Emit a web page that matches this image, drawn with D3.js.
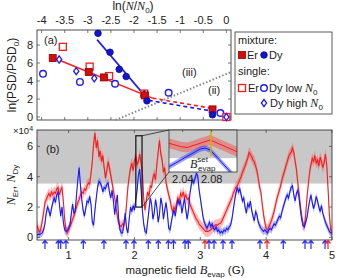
<!DOCTYPE html>
<html>
<head>
<meta charset="utf-8">
<script src="https://cdn.jsdelivr.net/npm/d3@7"></script>
<style>
  html, body { margin: 0; padding: 0; background: #fff; }
  svg { display: block; font-family: "Liberation Sans", Arial, sans-serif; }
  .math { font-family: "Liberation Serif", "DejaVu Serif", serif; font-style: italic; }
</style>
</head>
<body>
<div id="chart"></div>
<script>
// ---- panel (a) data: ln(N/N0) vs ln(PSD/PSD0)
const mixEr = [[-3.76, 6.55], [-2.98, 5.0], [-2.65, 4.4], [-1.76, 2.4], [-0.3, 0.85]];
const mixDy = [[-2.78, 9.3], [-2.52, 7.2], [-2.32, 5.3], [-2.17, 4.5], [-1.72, 1.8], [-0.3, 0.25]];
const singleEr = [[-3.54, 7.8], [-2.96, 5.6], [-2.54, 4.55], [-1.78, 2.6], [0.0, 0.0]];
const singleDyLow = [[-3.97, 4.8], [-3.17, 3.9], [-2.41, 3.7], [-1.25, 2.7], [-0.13, 0.45]];
const singleDyHigh = [[-3.62, 6.4], [-3.25, 5.1], [-2.86, 4.3], [-1.78, 2.5], [-0.3, 0.5], [0.0, 0.0]];
const fitEr = [[-3.8, 6.7], [-1.6, 2.1]];
const fitErExt = [[-1.6, 2.1], [-0.35, 1.0]];
const fitDy = [[-2.8, 8.6], [-1.68, 1.85]];
const fitDyExt = [[-1.68, 1.85], [-0.35, 0.7]];
const lineIII = [[-2.4, -0.33], [0.1, 5.0]];
const xTicksA = [-4, -3.5, -3, -2.5, -2, -1.5, -1, -0.5, 0];
const yTicksA = [0, 2, 4, 6, 8];

// ---- panel (b) data: atom numbers (x 10^4) vs B_evap (G)
const erTrace = [
  [0.52,0.8],[0.54,0.5],[0.56,0.35],[0.58,0.6],[0.60,1.1],[0.62,1.6],[0.64,2.3],[0.66,2.5],[0.68,2.7],[0.70,2.9],
  [0.72,2.7],[0.74,3.0],[0.76,2.8],[0.78,3.0],[0.80,2.9],[0.82,3.2],[0.84,3.3],[0.86,2.8],[0.88,3.1],[0.90,3.3],
  [0.92,2.4],[0.94,1.2],[0.96,0.5],[0.98,0.3],[1.00,0.5],[1.02,0.7],[1.04,0.9],[1.06,1.2],[1.08,1.4],[1.10,1.7],
  [1.12,2.0],[1.14,2.3],[1.16,2.5],[1.18,2.8],[1.20,3.0],[1.22,2.9],[1.24,3.2],[1.26,3.1],[1.28,3.4],[1.30,3.6],
  [1.32,3.5],[1.34,4.2],[1.36,5.0],[1.38,6.2],[1.40,6.9],[1.42,5.9],[1.44,6.4],[1.46,5.3],[1.48,5.7],[1.50,5.0],
  [1.52,5.4],[1.54,4.6],[1.56,3.9],[1.58,4.4],[1.60,5.0],[1.62,4.6],[1.64,4.1],[1.66,3.6],[1.68,3.1],[1.70,2.6],
  [1.72,2.0],[1.74,1.4],[1.76,0.9],[1.78,0.8],[1.80,0.7],[1.82,0.9],[1.84,0.8],[1.86,1.2],[1.88,2.2],[1.90,3.3],
  [1.92,4.0],[1.94,4.6],[1.96,4.9],[1.98,4.4],[2.00,5.1],[2.02,5.3],[2.04,4.8],[2.06,5.0],[2.08,5.5],[2.10,4.9],
  [2.12,4.4],[2.14,2.6],[2.16,1.8],[2.18,2.4],[2.20,3.0],[2.22,2.7],[2.24,3.4],[2.26,3.3],[2.28,3.9],[2.30,4.2],
  [2.32,3.8],[2.34,4.8],[2.36,5.6],[2.38,6.4],[2.40,5.5],[2.42,5.1],[2.44,4.3],[2.46,4.6],[2.48,3.6],[2.50,3.2],
  [2.52,2.8],[2.54,2.5],[2.56,2.0],[2.58,1.7],[2.60,2.0],[2.62,1.8],[2.64,2.3],[2.66,2.6],[2.68,2.3],[2.70,2.9],
  [2.72,2.7],[2.74,3.0],[2.76,2.6],[2.78,2.8],[2.80,2.5],[2.82,2.6],[2.84,2.2],[2.86,2.0],[2.88,1.8],[2.90,1.6],
  [2.92,1.4],[2.94,1.2],[2.96,1.1],[2.98,0.9],[3.00,0.8],[3.02,0.7],[3.04,0.6],[3.06,0.5],[3.08,0.4],[3.10,0.4],
  [3.12,0.4],[3.14,0.45],[3.16,0.5],[3.18,0.6],[3.20,0.7],[3.22,0.8],[3.24,0.85],[3.26,0.8],[3.28,0.9],[3.30,0.9],
  [3.32,1.0],[3.34,1.2],[3.36,1.4],[3.38,1.6],[3.40,1.8],[3.42,2.0],[3.44,2.2],[3.46,2.4],[3.48,2.6],[3.50,2.9],
  [3.52,3.1],[3.54,3.3],[3.56,3.4],[3.58,3.6],[3.60,3.8],[3.62,4.0],[3.64,4.3],[3.66,4.5],[3.68,4.7],[3.70,5.0],
  [3.72,5.2],[3.74,5.6],[3.76,5.5],[3.78,5.3],[3.80,5.1],[3.82,5.0],[3.84,4.7],[3.86,4.4],[3.88,3.9],[3.90,3.3],
  [3.92,3.0],[3.94,2.2],[3.96,1.5],[3.98,1.0],[4.00,0.6],[4.02,0.5],[4.04,0.7],[4.06,0.9],[4.08,1.1],[4.10,1.4],
  [4.12,1.7],[4.14,2.1],[4.16,2.5],[4.18,2.8],[4.20,3.1],[4.22,3.4],[4.24,3.8],[4.26,4.1],[4.28,4.4],[4.30,4.7],
  [4.32,5.0],[4.34,5.3],[4.36,5.5],[4.38,5.6],[4.40,5.9],[4.42,5.6],[4.44,5.0],[4.46,4.5],[4.48,3.6],[4.50,2.9],
  [4.52,2.1],[4.54,1.4],[4.56,0.8],[4.58,0.7],[4.60,1.5],[4.62,2.6],[4.64,3.5],[4.66,4.3],[4.68,4.8],[4.70,5.2],
  [4.72,5.0],[4.74,5.4],[4.76,4.9],[4.78,5.1],[4.80,4.7],[4.82,5.3],[4.84,5.0],[4.86,4.6],[4.88,4.9],[4.90,5.5],
  [4.92,4.8],[4.94,3.2],[4.96,1.5],[4.98,0.5],[5.00,0.4]
];
const dyTrace = [
  [0.52,0.15],[0.54,0.2],[0.56,0.2],[0.58,0.25],[0.60,0.3],[0.62,0.5],[0.64,0.9],[0.66,1.6],[0.68,2.0],[0.70,1.8],
  [0.72,1.4],[0.74,1.9],[0.76,2.3],[0.78,2.6],[0.80,2.3],[0.82,2.8],[0.84,3.0],[0.86,2.2],[0.88,1.4],[0.90,2.0],
  [0.92,1.0],[0.94,0.5],[0.96,0.4],[0.98,0.45],[1.00,0.6],[1.02,0.8],[1.04,1.5],[1.06,2.2],[1.08,1.6],[1.10,1.7],
  [1.12,2.8],[1.14,3.8],[1.16,4.6],[1.18,3.4],[1.20,2.5],[1.22,1.8],[1.24,1.4],[1.26,1.9],[1.28,2.4],[1.30,2.3],
  [1.32,2.7],[1.34,2.2],[1.36,1.0],[1.38,0.8],[1.40,1.8],[1.42,2.6],[1.44,3.3],[1.46,3.7],[1.48,3.6],[1.50,3.4],
  [1.52,3.0],[1.54,3.3],[1.56,3.2],[1.58,3.5],[1.60,3.6],[1.62,3.0],[1.64,2.6],[1.66,3.1],[1.68,2.4],[1.70,1.5],
  [1.72,2.2],[1.74,2.8],[1.76,1.2],[1.78,0.5],[1.80,0.3],[1.82,0.3],[1.84,0.9],[1.86,1.6],[1.88,0.6],[1.90,0.3],
  [1.92,1.2],[1.94,2.0],[1.96,1.7],[1.98,2.1],[2.00,1.8],[2.02,2.5],[2.04,3.1],[2.06,4.1],[2.08,4.5],[2.10,3.2],
  [2.12,1.8],[2.14,0.9],[2.16,0.4],[2.18,0.3],[2.20,1.0],[2.22,1.8],[2.24,2.6],[2.26,2.2],[2.28,1.2],[2.30,1.6],
  [2.32,2.5],[2.34,2.0],[2.36,1.0],[2.38,1.5],[2.40,2.6],[2.42,2.2],[2.44,1.2],[2.46,1.8],[2.48,2.3],[2.50,1.6],
  [2.52,0.6],[2.54,0.5],[2.56,1.0],[2.58,1.5],[2.60,1.8],[2.62,1.4],[2.64,2.0],[2.66,2.5],[2.68,2.2],[2.70,2.4],
  [2.72,1.6],[2.74,2.1],[2.76,2.6],[2.78,1.8],[2.80,1.2],[2.82,1.8],[2.84,2.8],[2.86,3.4],[2.88,3.8],[2.90,3.6],
  [2.92,3.9],[2.94,4.2],[2.96,4.1],[2.98,3.2],[3.00,2.6],[3.02,2.0],[3.04,1.4],[3.06,1.0],[3.08,0.8],[3.10,0.6],
  [3.12,0.8],[3.14,1.0],[3.16,0.7],[3.18,0.9],[3.20,0.6],[3.22,0.5],[3.24,0.7],[3.26,0.4],[3.28,0.5],[3.30,0.3],
  [3.32,0.4],[3.34,0.3],[3.36,0.5],[3.38,0.4],[3.40,0.6],[3.42,0.5],[3.44,0.7],[3.46,0.8],[3.48,1.2],[3.50,1.8],
  [3.52,2.4],[3.54,2.9],[3.56,3.3],[3.58,3.0],[3.60,3.2],[3.62,2.8],[3.64,2.4],[3.66,2.6],[3.68,2.0],[3.70,1.6],
  [3.72,2.2],[3.74,2.0],[3.76,2.4],[3.78,1.8],[3.80,1.4],[3.82,1.1],[3.84,1.7],[3.86,1.5],[3.88,1.0],[3.90,0.8],
  [3.92,0.6],[3.94,0.5],[3.96,0.4],[3.98,0.5],[4.00,0.4],[4.02,0.3],[4.04,0.5],[4.06,0.6],[4.08,0.5],[4.10,0.7],
  [4.12,0.9],[4.14,0.8],[4.16,1.0],[4.18,1.2],[4.20,1.4],[4.22,1.3],[4.24,1.7],[4.26,2.0],[4.28,2.3],[4.30,2.6],
  [4.32,2.8],[4.34,2.6],[4.36,3.0],[4.38,3.3],[4.40,3.4],[4.42,2.8],[4.44,2.4],[4.46,2.9],[4.48,3.1],[4.50,2.6],
  [4.52,1.8],[4.54,1.2],[4.56,0.8],[4.58,0.7],[4.60,1.0],[4.62,1.3],[4.64,1.9],[4.66,2.4],[4.68,2.8],[4.70,2.3],
  [4.72,1.9],[4.74,2.2],[4.76,2.7],[4.78,2.4],[4.80,2.0],[4.82,1.7],[4.84,2.1],[4.86,1.6],[4.88,1.3],[4.90,1.0],
  [4.92,0.8],[4.94,0.6],[4.96,0.4],[4.98,0.3],[5.00,0.3]
];
const erBand = 0.35;
const dyBand = 0.25;
const shadeFrom = 3.55;           // grey band above this atom number
const insetEr = [[2.021, 5.21], [2.038, 4.83], [2.046, 4.74], [2.078, 5.58], [2.115, 4.27]];
const insetDy = [[2.021, 2.59], [2.064, 4.57], [2.071, 4.68], [2.078, 4.46], [2.101, 2.45], [2.115, 1.2]];
const bSet = 2.079;
const insetTicks = [2.04, 2.08];
const arrowsDy = [0.641, 0.843, 0.880, 0.960, 1.223, 1.537, 1.872, 1.993, 2.210, 2.362, 2.514, 2.593,
  2.768, 2.818, 3.132, 3.208, 3.345, 3.481, 3.906, 4.260, 4.590, 4.681, 4.894];
const arrowsEr = [3.071, 4.013, 4.939];
const xTicksB = [1, 2, 3, 4, 5];
const yTicksB = [0, 2, 4, 6];

const RED = '#ff1a1a', BLUE = '#1a1aff';

const svg = d3.select('#chart').append('svg').attr('width', 340).attr('height', 278);

// ================= panel (a) =================
const xA = d3.scaleLinear().domain([-4.1, 0.1]).range([37, 231]);
const yA = d3.scaleLinear().domain([-0.33, 9.67]).range([120, 30]);
const gA = svg.append('g');

gA.append('rect').attr('x', 37).attr('y', 30).attr('width', 194).attr('height', 90)
  .attr('fill', 'none').attr('stroke', '#222').attr('stroke-width', 0.8);

// ticks inward on all sides
xTicksA.forEach(t => {
  gA.append('line').attr('x1', xA(t)).attr('x2', xA(t)).attr('y1', 30).attr('y2', 33).attr('stroke', '#444').attr('stroke-width', 0.7);
  gA.append('line').attr('x1', xA(t)).attr('x2', xA(t)).attr('y1', 120).attr('y2', 117).attr('stroke', '#444').attr('stroke-width', 0.7);
  gA.append('text').attr('x', xA(t)).attr('y', 24).attr('text-anchor', 'middle')
    .style('font-size', '11px').attr('fill', '#222').text(t);
});
yTicksA.forEach(t => {
  gA.append('line').attr('x1', 37).attr('x2', 40).attr('y1', yA(t)).attr('y2', yA(t)).attr('stroke', '#444').attr('stroke-width', 0.7);
  gA.append('line').attr('x1', 231).attr('x2', 228).attr('y1', yA(t)).attr('y2', yA(t)).attr('stroke', '#444').attr('stroke-width', 0.7);
  gA.append('text').attr('x', 33).attr('y', yA(t)).attr('dy', '0.33em').attr('text-anchor', 'end')
    .style('font-size', '11px').attr('fill', '#222').text(t);
});

// axis titles
const tA = gA.append('text').attr('x', 133).attr('y', 10).attr('text-anchor', 'middle').style('font-size', '12px').attr('fill', '#222');
tA.append('tspan').text('ln(');
tA.append('tspan').attr('class', 'math').text('N');
tA.append('tspan').text('/');
tA.append('tspan').attr('class', 'math').text('N');
tA.append('tspan').attr('dy', 3).style('font-size', '8px').text('0');
tA.append('tspan').attr('dy', -3).text(')');

const yl = gA.append('text').attr('transform', 'translate(16,75) rotate(-90)').attr('text-anchor', 'middle')
  .style('font-size', '12px').attr('fill', '#222');
yl.append('tspan').text('ln(PSD/PSD');
yl.append('tspan').attr('dy', 3).style('font-size', '8px').text('0');
yl.append('tspan').attr('dy', -3).text(')');

gA.append('text').attr('x', 44).attr('y', 44).style('font-size', '11px').attr('fill', '#222').text('(a)');
gA.append('text').attr('x', 182).attr('y', 76).style('font-size', '11px').attr('fill', '#222').text('(iii)');
gA.append('text').attr('x', 208).attr('y', 94).style('font-size', '11px').attr('fill', '#222').text('(ii)');

const lineA = d3.line().x(d => xA(d[0])).y(d => yA(d[1]));
gA.append('path').datum(lineIII).attr('d', lineA).attr('fill', 'none').attr('stroke', '#888')
  .attr('stroke-width', 2).attr('stroke-dasharray', '1.5,2');
gA.append('path').datum(fitErExt).attr('d', lineA).attr('fill', 'none').attr('stroke', RED).attr('stroke-width', 1.6).attr('stroke-dasharray', '4,3');
gA.append('path').datum(fitDyExt).attr('d', lineA).attr('fill', 'none').attr('stroke', BLUE).attr('stroke-width', 1.6).attr('stroke-dasharray', '4,3');
gA.append('path').datum(fitEr).attr('d', lineA).attr('fill', 'none').attr('stroke', RED).attr('stroke-width', 1.6);
gA.append('path').datum(fitDy).attr('d', lineA).attr('fill', 'none').attr('stroke', BLUE).attr('stroke-width', 1.6);

function square(g, x, y, filled) {
  g.append('rect').attr('x', x - 3.5).attr('y', y - 3.5).attr('width', 7).attr('height', 7)
    .attr('fill', filled ? '#d01010' : '#fff').attr('stroke', filled ? '#8a0000' : RED).attr('stroke-width', filled ? 0.8 : 1.3);
}
function circle(g, x, y, filled) {
  g.append('circle').attr('cx', x).attr('cy', y).attr('r', 3.3)
    .attr('fill', filled ? '#1414cc' : '#fff').attr('stroke', filled ? '#0a0a90' : BLUE).attr('stroke-width', filled ? 0.8 : 1.4);
}
function diamond(g, x, y) {
  g.append('path').attr('d', `M${x},${y - 3.6}L${x + 2.6},${y}L${x},${y + 3.6}L${x - 2.6},${y}Z`)
    .attr('fill', '#fff').attr('stroke', BLUE).attr('stroke-width', 1.3);
}
singleDyLow.forEach(d => circle(gA, xA(d[0]), yA(d[1]), false));
singleEr.forEach(d => square(gA, xA(d[0]), yA(d[1]), false));
singleDyHigh.forEach(d => diamond(gA, xA(d[0]), yA(d[1])));
mixEr.forEach(d => square(gA, xA(d[0]), yA(d[1]), true));
mixDy.forEach(d => circle(gA, xA(d[0]), yA(d[1]), true));

// legend
const lg = svg.append('g');
lg.append('rect').attr('x', 235).attr('y', 32).attr('width', 97).attr('height', 82)
  .attr('fill', '#fff').attr('stroke', '#333').attr('stroke-width', 0.8);
const lt = (x, y, s) => lg.append('text').attr('x', x).attr('y', y).style('font-size', '11px').attr('fill', '#222').text(s);
lt(238, 44, 'mixture:');
square(lg, 242, 55, true); lt(247, 59, 'Er');
circle(lg, 264, 55, true); lt(269, 59, 'Dy');
lt(238, 75, 'single:');
square(lg, 242, 88, false); lt(248, 92, 'Er');
circle(lg, 264, 88, false);
let t1 = lt(269, 92, 'Dy low ');
t1.append('tspan').attr('class', 'math').style('font-size', '12px').text('N');
t1.append('tspan').attr('dy', 3).style('font-size', '8px').text('0');
diamond(lg, 264, 103);
let t2 = lt(270, 107, 'Dy high ');
t2.append('tspan').attr('class', 'math').style('font-size', '12px').text('N');
t2.append('tspan').attr('dy', 3).style('font-size', '8px').text('0');

// ================= panel (b) =================
const xB = d3.scaleLinear().domain([0.52, 5.0]).range([37, 332]);
const yB = d3.scaleLinear().domain([-0.17, 7.08]).range([240, 130]);
const gB = svg.append('g');
const clipB = svg.append('clipPath').attr('id', 'clipB');
clipB.append('rect').attr('x', 37).attr('y', 130).attr('width', 295).attr('height', 110);

gB.append('rect').attr('x', 37).attr('y', 130).attr('width', 295).attr('height', yB(shadeFrom) - 130).attr('fill', '#c8c8c8');

const plotB = gB.append('g').attr('clip-path', 'url(#clipB)');
const areaB = (w) => d3.area().x(d => xB(d[0])).y0(d => yB(d[1] - w)).y1(d => yB(d[1] + w));
const lineB = d3.line().x(d => xB(d[0])).y(d => yB(d[1]));
plotB.append('path').datum(erTrace).attr('d', areaB(erBand)).attr('fill', '#ff3030').attr('opacity', 0.35);
plotB.append('path').datum(dyTrace).attr('d', areaB(dyBand)).attr('fill', '#3030ff').attr('opacity', 0.35);
plotB.append('path').datum(erTrace).attr('d', lineB).attr('fill', 'none').attr('stroke', RED).attr('stroke-width', 1.1);
plotB.append('path').datum(dyTrace).attr('d', lineB).attr('fill', 'none').attr('stroke', BLUE).attr('stroke-width', 1.1);

gB.append('rect').attr('x', 37).attr('y', 130).attr('width', 295).attr('height', 110)
  .attr('fill', 'none').attr('stroke', '#222').attr('stroke-width', 0.8);
xTicksB.forEach(t => {
  gB.append('line').attr('x1', xB(t)).attr('x2', xB(t)).attr('y1', 130).attr('y2', 133).attr('stroke', '#444').attr('stroke-width', 0.7);
  gB.append('line').attr('x1', xB(t)).attr('x2', xB(t)).attr('y1', 240).attr('y2', 237).attr('stroke', '#444').attr('stroke-width', 0.7);
  gB.append('text').attr('x', xB(t)).attr('y', 259).attr('text-anchor', 'middle').style('font-size', '11px').attr('fill', '#222').text(t);
});
yTicksB.forEach(t => {
  gB.append('line').attr('x1', 37).attr('x2', 40).attr('y1', yB(t)).attr('y2', yB(t)).attr('stroke', '#444').attr('stroke-width', 0.7);
  gB.append('line').attr('x1', 332).attr('x2', 329).attr('y1', yB(t)).attr('y2', yB(t)).attr('stroke', '#444').attr('stroke-width', 0.7);
  gB.append('text').attr('x', 33).attr('y', yB(t)).attr('dy', '0.35em').attr('text-anchor', 'end').style('font-size', '11px').attr('fill', '#222').text(t);
});
const ex = gB.append('text').attr('x', 13).attr('y', 134).style('font-size', '9.5px').attr('fill', '#222');
ex.append('tspan').text('×10');
ex.append('tspan').attr('dy', -3).style('font-size', '7px').text('4');
gB.append('text').attr('x', 46).attr('y', 153).style('font-size', '11px').attr('fill', '#222').text('(b)');

const ylB = gB.append('text').attr('transform', 'translate(15,185) rotate(-90)').attr('text-anchor', 'middle')
  .style('font-size', '12px').attr('fill', '#222');
ylB.append('tspan').attr('class', 'math').text('N');
ylB.append('tspan').attr('dy', 3).style('font-size', '8px').text('Er');
ylB.append('tspan').attr('dy', -3).text(', ');
ylB.append('tspan').attr('class', 'math').text('N');
ylB.append('tspan').attr('dy', 3).style('font-size', '8px').text('Dy');

const xl = gB.append('text').attr('x', 185).attr('y', 274).attr('text-anchor', 'middle').style('font-size', '11.5px').attr('fill', '#222');
xl.append('tspan').text('magnetic field ');
xl.append('tspan').attr('class', 'math').style('font-size', '12.5px').text('B');
xl.append('tspan').attr('dy', 3).style('font-size', '8px').text('evap');
xl.append('tspan').attr('dy', -3).text(' (G)');

// arrows marking Feshbach resonances
function arrow(b, color) {
  const x = xB(b);
  gB.append('path').attr('d', `M${x},249L${x},240.5M${x - 2.5},243.5L${x},240.5L${x + 2.5},243.5`)
    .attr('fill', 'none').attr('stroke', color).attr('stroke-width', 1.2);
}
arrowsDy.forEach(b => arrow(b, '#2a2aff'));
arrowsEr.forEach(b => arrow(b, '#ff2020'));

// ---- zoom rectangle and inset
const xI = d3.scaleLinear().domain([2.021, 2.115]).range([169, 237]);
const yI = d3.scaleLinear().domain([2.0, 6.7]).range([172, 130]);
const zx0 = xB(2.021), zx1 = xB(2.115), zy0 = yB(6.7), zy1 = yB(2.0);
gB.append('line').attr('x1', zx1).attr('y1', zy0).attr('x2', 169).attr('y2', 130).attr('stroke', '#222').attr('stroke-width', 0.8);
gB.append('line').attr('x1', zx1).attr('y1', zy1).attr('x2', 169).attr('y2', 172).attr('stroke', '#222').attr('stroke-width', 0.8);
gB.append('rect').attr('x', zx0).attr('y', zy0).attr('width', zx1 - zx0).attr('height', zy1 - zy0)
  .attr('fill', 'none').attr('stroke', '#111').attr('stroke-width', 1.2);

const gI = svg.append('g');
gI.append('clipPath').attr('id', 'clipI').append('rect').attr('x', 169).attr('y', 130).attr('width', 68).attr('height', 42);
gI.append('rect').attr('x', 169).attr('y', 130).attr('width', 68).attr('height', 42).attr('fill', '#fff');
gI.append('rect').attr('x', 169).attr('y', 130).attr('width', 68).attr('height', yI(shadeFrom) - 130).attr('fill', '#c8c8c8');
const pI = gI.append('g').attr('clip-path', 'url(#clipI)');
const areaI = (w) => d3.area().x(d => xI(d[0])).y0(d => yI(d[1] - w)).y1(d => yI(d[1] + w));
const lineI = d3.line().x(d => xI(d[0])).y(d => yI(d[1]));
pI.append('path').datum(insetEr).attr('d', areaI(0.55)).attr('fill', '#ff3030').attr('opacity', 0.4);
pI.append('path').datum(insetDy).attr('d', areaI(0.3)).attr('fill', '#3030ff').attr('opacity', 0.45);
pI.append('path').datum(insetEr).attr('d', lineI).attr('fill', 'none').attr('stroke', RED).attr('stroke-width', 1);
pI.append('path').datum(insetDy).attr('d', lineI).attr('fill', 'none').attr('stroke', BLUE).attr('stroke-width', 1);
pI.append('line').attr('x1', xI(bSet)).attr('x2', xI(bSet)).attr('y1', 130).attr('y2', 156)
  .attr('stroke', '#d4b000').attr('stroke-width', 1.6);
const bl = gI.append('text').attr('x', 190).attr('y', 168).style('font-size', '11px').attr('fill', '#222');
bl.append('tspan').attr('class', 'math').style('font-size', '12px').text('B');
bl.append('tspan').attr('dy', -6).style('font-size', '8px').text('set');
bl.append('tspan').attr('x', 198).attr('dy', 9).style('font-size', '8px').text('evap');
insetTicks.forEach(t => {
  gI.append('line').attr('x1', xI(t)).attr('x2', xI(t)).attr('y1', 130).attr('y2', 132).attr('stroke', '#444').attr('stroke-width', 0.7);
  gI.append('text').attr('x', xI(t)).attr('y', 183).attr('text-anchor', 'middle').style('font-size', '11px').attr('fill', '#222').text(t.toFixed(2));
});
gI.append('rect').attr('x', 169).attr('y', 130).attr('width', 68).attr('height', 42)
  .attr('fill', 'none').attr('stroke', '#333').attr('stroke-width', 0.8);
</script>
</body>
</html>
